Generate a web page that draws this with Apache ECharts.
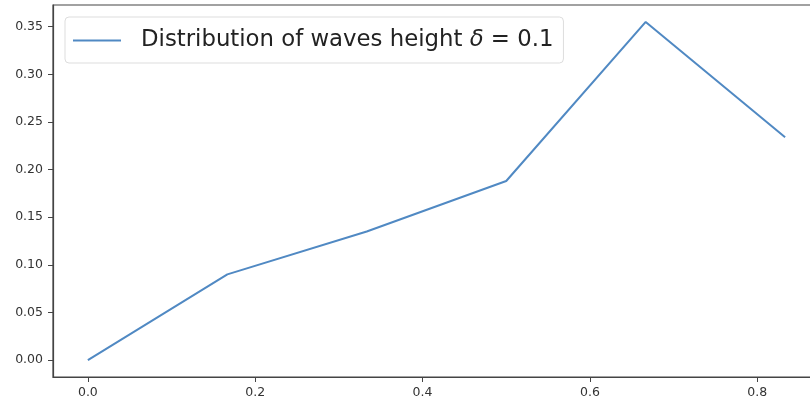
<!DOCTYPE html>
<html>
<head>
<meta charset="utf-8">
<script src="https://cdn.jsdelivr.net/npm/echarts@6/dist/echarts.min.js"></script>
<style>html,body{margin:0;padding:0;background:#fff}#c{width:810px;height:404px}</style>
</head>
<body>
<div id="c"></div>
<script>
var xValues = [0.0, 0.1667, 0.3333, 0.5, 0.6667, 0.8333];
var yValues = [0.0, 0.090, 0.135, 0.188, 0.355, 0.234];
var xTicks = [0.0, 0.2, 0.4, 0.6, 0.8];
var yTicks = [0.00, 0.05, 0.10, 0.15, 0.20, 0.25, 0.30, 0.35];
var seriesName = 'Distribution of waves height δ = 0.1';

var chart = echarts.init(document.getElementById('c'), null, {renderer: 'canvas'});
var labelStyle = {color: '#333', fontFamily: 'DejaVu Sans', fontSize: 12.5};
chart.setOption({
  animation: false,
  backgroundColor: '#fff',
  grid: {left: 53, top: 5, right: -10, bottom: 27, show: true, borderColor: '#444', borderWidth: 1.2,
         containLabel: false, outerBoundsMode: 'none'},
  legend: {
    left: 65, top: 17, orient: 'horizontal',
    data: [{name: seriesName, icon: 'rect'}],
    itemWidth: 48, itemHeight: 2,
    padding: [11, 10, 10, 8],
    backgroundColor: '#fff',
    borderColor: '#ddd', borderWidth: 1, borderRadius: 4,
    formatter: function () { return 'Distribution of waves height {i|δ} = 0.1'; },
    textStyle: {
      color: '#222', fontFamily: 'DejaVu Sans', fontSize: 22.8, lineHeight: 25, padding: [0, 0, 0, 15],
      rich: {i: {fontStyle: 'italic', fontFamily: 'DejaVu Sans', fontSize: 22.8, lineHeight: 25, color: '#222'}}
    }
  },
  xAxis: {
    type: 'value', min: -0.041667, max: 0.875,
    axisLine: {show: true, onZero: false, lineStyle: {color: '#444', width: 1.2}},
    axisTick: {show: true, length: 5, lineStyle: {color: '#444'}, customValues: xTicks},
    axisLabel: {show: true, margin: 9, customValues: xTicks, formatter: function (v) { return v.toFixed(1); }, ...labelStyle},
    splitLine: {show: false}
  },
  yAxis: {
    type: 'value', min: -0.01775, max: 0.3728,
    axisLine: {show: true, onZero: false, lineStyle: {color: '#444', width: 1.2}},
    axisTick: {show: true, length: 5, lineStyle: {color: '#444'}, customValues: yTicks},
    axisLabel: {show: true, margin: 10, customValues: yTicks, formatter: function (v) { return v.toFixed(2); }, ...labelStyle},
    splitLine: {show: false}
  },
  series: [{
    name: seriesName, type: 'line',
    data: xValues.map(function (x, i) { return [x, yValues[i]]; }),
    showSymbol: false, symbol: 'none',
    lineStyle: {color: '#5089c3', width: 2},
    itemStyle: {color: '#5089c3'}
  }]
});
</script>
</body>
</html>
